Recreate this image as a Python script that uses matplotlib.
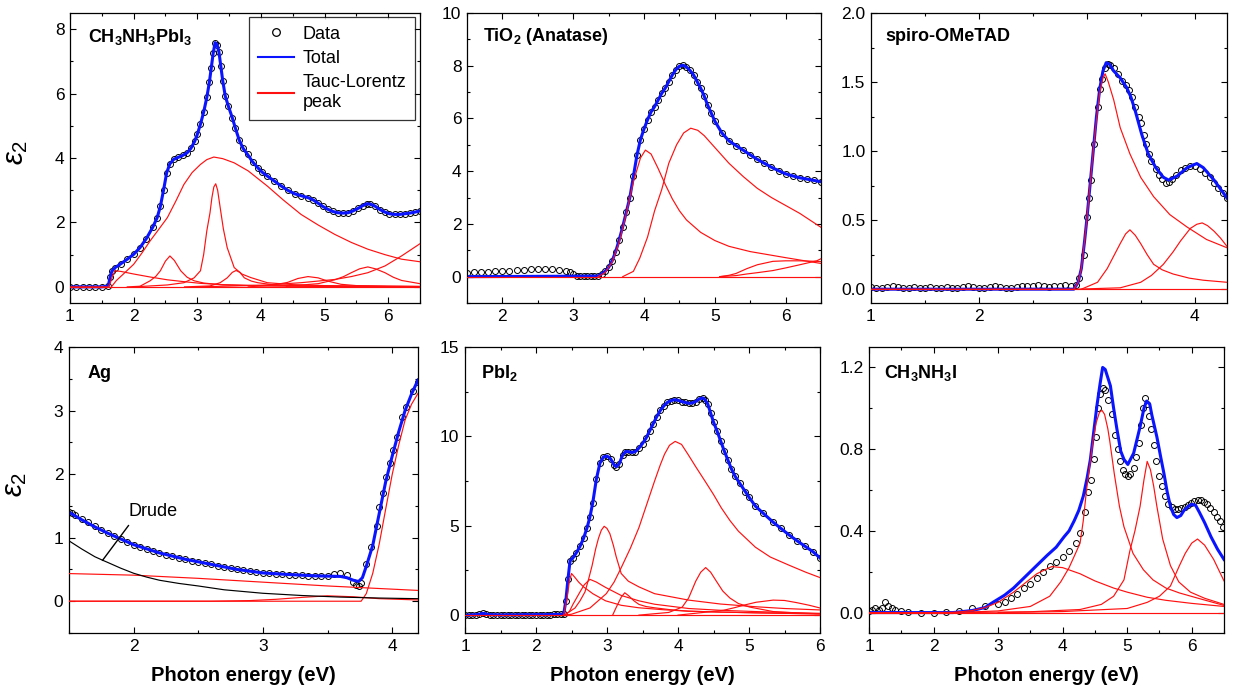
import matplotlib
matplotlib.use("Agg")
import matplotlib.pyplot as plt
from matplotlib.ticker import MultipleLocator, FormatStrFormatter
from matplotlib.lines import Line2D

plt.rcParams['font.family'] = ['Liberation Sans', 'DejaVu Sans']
plt.rcParams['mathtext.fontset'] = 'custom'
plt.rcParams['mathtext.rm'] = 'Liberation Sans'
plt.rcParams['mathtext.it'] = 'Liberation Sans:italic'
plt.rcParams['mathtext.bf'] = 'Liberation Sans:bold'

# ---------------- CH3NH3PbI3 ----------------
mapi_e = [1.0,1.1,1.2,1.3,1.4,1.5,1.6,1.63,1.66,1.71,1.8,1.9,2.0,2.1,2.2,2.3,2.37,2.42,2.47,2.52,2.57,2.63,2.7,2.77,2.84,2.9,2.96,3.0,3.05,3.1,3.15,3.19,3.22,3.25,3.28,3.31,3.34,3.37,3.4,3.44,3.49,3.55,3.6,3.66,3.72,3.79,3.87,3.95,4.02,4.1,4.2,4.32,4.42,4.53,4.63,4.74,4.82,4.89,4.97,5.05,5.13,5.21,5.29,5.37,5.45,5.53,5.6,5.66,5.72,5.79,5.87,5.95,6.02,6.1,6.18,6.26,6.34,6.42,6.5]
mapi_eps = [0,0,0,0,0,0,0.02,0.3,0.5,0.6,0.72,0.86,1.01,1.22,1.5,1.85,2.15,2.5,3.0,3.55,3.82,3.96,4.02,4.08,4.16,4.3,4.52,4.73,5.05,5.42,5.88,6.35,6.8,7.25,7.58,7.52,7.3,6.85,6.4,5.92,5.6,5.25,4.92,4.55,4.3,4.11,3.88,3.7,3.56,3.44,3.3,3.13,3.0,2.89,2.83,2.77,2.7,2.61,2.5,2.41,2.34,2.3,2.29,2.3,2.36,2.44,2.52,2.58,2.57,2.51,2.4,2.32,2.27,2.25,2.25,2.27,2.29,2.32,2.36]
mapi_peaks = [
    ([1.0,1.6,1.63,1.67,1.71,1.8,2.0,2.25,2.53,2.8,3.05,3.4,4.0,5.0,6.5],
     [0,0,0.1,0.35,0.5,0.48,0.4,0.31,0.22,0.16,0.11,0.07,0.04,0.02,0.01]),
    ([1.0,6.5], [0,0]),
    ([1.65,1.73,1.85,2.0,2.13,2.26,2.4,2.53,2.66,2.79,2.92,3.05,3.15,3.26,3.4,3.58,3.8,4.1,4.35,4.63,4.9,5.16,5.42,5.68,5.95,6.21,6.5],
     [0,0.2,0.42,0.7,1.05,1.43,1.8,2.15,2.65,3.18,3.55,3.8,3.95,4.03,3.98,3.85,3.6,3.13,2.7,2.25,1.92,1.63,1.38,1.17,1.0,0.86,0.78]),
    ([2.0,2.53,2.79,2.95,3.05,3.1,3.15,3.2,3.23,3.26,3.29,3.32,3.36,3.41,3.47,3.58,3.7,3.84,4.1,4.5,5.0,6.0,6.5],
     [0,0.06,0.13,0.28,0.5,1.0,1.74,2.3,2.77,3.1,3.2,3.0,2.46,1.8,1.22,0.6,0.4,0.29,0.13,0.07,0.04,0.02,0.015]),
    ([1.9,2.1,2.26,2.35,2.42,2.5,2.57,2.64,2.74,2.84,2.95,3.1,3.4,4.0,5.0,6.5],
     [0,0.02,0.19,0.33,0.5,0.8,0.96,0.82,0.5,0.3,0.19,0.12,0.06,0.03,0.015,0.01]),
    ([2.8,3.2,3.36,3.47,3.55,3.61,3.67,3.74,3.85,3.95,4.21,4.6,5.5,6.5],
     [0,0.03,0.13,0.28,0.45,0.51,0.45,0.28,0.18,0.13,0.06,0.03,0.01,0.005]),
    ([3.8,4.2,4.42,4.58,4.74,4.9,5.05,5.26,5.5,6.0,6.5],
     [0,0.06,0.14,0.26,0.32,0.28,0.18,0.08,0.04,0.02,0.01]),
    ([4.4,4.9,5.16,5.3,5.42,5.55,5.68,5.8,5.95,6.08,6.21,6.5],
     [0.02,0.1,0.22,0.32,0.44,0.56,0.62,0.56,0.44,0.3,0.2,0.1]),
    ([3.0,3.6,4.1,4.63,5.16,5.42,5.68,5.95,6.21,6.5],
     [0,0.03,0.06,0.13,0.23,0.32,0.44,0.65,0.96,1.34]),
]

# ---------------- TiO2 ----------------
tio2_e = [1.5,1.6,1.7,1.8,1.9,2.0,2.1,2.2,2.3,2.4,2.5,2.6,2.7,2.8,2.9,2.95,3.0,3.05,3.1,3.15,3.2,3.25,3.3,3.35,3.4,3.45,3.5,3.55,3.6,3.65,3.7,3.75,3.8,3.85,3.9,3.95,4.0,4.05,4.1,4.15,4.2,4.25,4.3,4.35,4.4,4.45,4.5,4.55,4.6,4.65,4.7,4.75,4.8,4.85,4.9,4.95,5.0,5.1,5.2,5.3,5.4,5.5,5.6,5.7,5.8,5.9,6.0,6.1,6.2,6.3,6.4,6.5]
tio2_eps = [0.15,0.17,0.18,0.19,0.2,0.21,0.23,0.25,0.27,0.28,0.29,0.29,0.28,0.26,0.22,0.18,0.1,0.04,0.02,0.02,0.02,0.02,0.02,0.03,0.1,0.2,0.35,0.6,0.95,1.4,1.9,2.45,3.0,3.8,4.6,5.2,5.6,5.95,6.25,6.45,6.7,6.95,7.15,7.4,7.65,7.85,7.98,8.02,7.95,7.82,7.65,7.4,7.15,6.85,6.5,6.2,5.9,5.45,5.15,4.97,4.8,4.62,4.45,4.3,4.15,4.02,3.9,3.82,3.75,3.7,3.65,3.6]
tio2_peaks = [
    ([1.5,6.5], [0,0]),
    ([3.35,3.45,3.55,3.65,3.75,3.85,3.95,4.02,4.1,4.2,4.3,4.4,4.5,4.6,4.8,5.0,5.2,5.5,6.0,6.5],
     [0,0.15,0.55,1.3,2.4,3.6,4.5,4.8,4.65,4.1,3.5,2.95,2.5,2.15,1.68,1.37,1.15,0.95,0.72,0.5]),
    ([3.7,3.85,3.94,4.05,4.15,4.25,4.35,4.46,4.56,4.66,4.76,4.85,5.0,5.2,5.4,5.6,5.8,6.0,6.2,6.5],
     [0,0.2,0.7,1.5,2.5,3.3,4.3,5.0,5.45,5.63,5.55,5.35,4.9,4.3,3.8,3.35,3.0,2.7,2.4,1.87]),
    ([5.07,5.2,5.3,5.45,5.6,5.82,6.0,6.2,6.44,6.5],
     [0,0.05,0.12,0.3,0.45,0.58,0.6,0.6,0.58,0.57]),
    ([5.07,5.3,5.45,5.6,5.82,6.0,6.2,6.44,6.5],
     [0,0.04,0.1,0.15,0.23,0.33,0.45,0.6,0.68]),
]

# ---------------- spiro-OMeTAD ----------------
spiro_e = [1.0,1.05,1.1,1.15,1.2,1.25,1.3,1.35,1.4,1.45,1.5,1.55,1.6,1.65,1.7,1.75,1.8,1.85,1.9,1.95,2.0,2.05,2.1,2.15,2.2,2.25,2.3,2.35,2.4,2.45,2.5,2.55,2.6,2.65,2.7,2.75,2.8,2.85,2.9,2.93,2.97,3.0,3.02,3.04,3.07,3.1,3.12,3.14,3.17,3.2,3.22,3.25,3.29,3.33,3.36,3.39,3.42,3.45,3.48,3.5,3.53,3.55,3.58,3.6,3.64,3.67,3.7,3.73,3.76,3.79,3.83,3.87,3.91,3.96,4.0,4.05,4.1,4.14,4.18,4.22,4.26,4.3]
spiro_eps = [0.015,0.01,0.012,0.015,0.02,0.015,0.01,0.012,0.015,0.01,0.012,0.015,0.01,0.012,0.015,0.01,0.012,0.015,0.02,0.015,0.01,0.012,0.015,0.02,0.015,0.01,0.012,0.015,0.02,0.02,0.025,0.03,0.02,0.015,0.02,0.025,0.03,0.025,0.03,0.08,0.25,0.52,0.66,0.79,1.05,1.32,1.45,1.52,1.6,1.63,1.62,1.6,1.56,1.51,1.48,1.44,1.39,1.32,1.25,1.2,1.12,1.05,0.98,0.93,0.87,0.83,0.8,0.77,0.775,0.8,0.83,0.86,0.88,0.89,0.89,0.87,0.84,0.81,0.77,0.73,0.7,0.66]
spiro_tot_e = [1.0,2.88,2.92,2.95,2.98,3.0,3.03,3.06,3.09,3.12,3.15,3.18,3.21,3.25,3.31,3.37,3.41,3.45,3.51,3.57,3.64,3.71,3.76,3.84,3.93,4.02,4.08,4.18,4.3]
spiro_tot = [0,0,0.05,0.15,0.35,0.5,0.75,1.0,1.25,1.45,1.58,1.64,1.63,1.58,1.53,1.46,1.39,1.29,1.12,0.98,0.88,0.81,0.79,0.82,0.88,0.91,0.88,0.79,0.66]
spiro_peaks = [
    ([1.0,4.3], [0,0]),
    ([1.0,2.88,2.92,2.95,2.98,3.0,3.03,3.06,3.09,3.12,3.15,3.17,3.2,3.25,3.31,3.4,3.5,3.62,3.77,3.93,4.11,4.3],
     [0,0,0.05,0.15,0.35,0.5,0.75,1.0,1.23,1.42,1.53,1.56,1.5,1.37,1.17,0.98,0.81,0.67,0.54,0.45,0.36,0.3]),
    ([2.95,3.1,3.19,3.25,3.31,3.36,3.4,3.45,3.5,3.56,3.62,3.7,3.8,3.95,4.08,4.3],
     [0,0.05,0.15,0.24,0.33,0.4,0.43,0.39,0.33,0.25,0.18,0.14,0.11,0.08,0.065,0.05]),
    ([2.9,3.31,3.5,3.6,3.71,3.8,3.87,3.96,4.02,4.07,4.12,4.18,4.24,4.3],
     [0,0.01,0.05,0.1,0.18,0.27,0.35,0.44,0.47,0.48,0.46,0.42,0.37,0.31]),
]

# ---------------- Ag ----------------
ag_e = [1.5,1.52,1.55,1.6,1.65,1.7,1.75,1.8,1.85,1.9,1.95,2.0,2.05,2.1,2.15,2.2,2.25,2.3,2.35,2.4,2.45,2.5,2.55,2.6,2.65,2.7,2.75,2.8,2.85,2.9,2.95,3.0,3.05,3.1,3.15,3.2,3.25,3.3,3.35,3.4,3.45,3.5,3.55,3.6,3.65,3.7,3.72,3.74,3.76,3.8,3.84,3.88,3.9,3.93,3.95,3.98,4.01,4.04,4.08,4.11,4.16,4.2]
ag_eps = [1.4,1.39,1.36,1.3,1.24,1.18,1.12,1.07,1.02,0.98,0.93,0.89,0.86,0.82,0.79,0.76,0.735,0.71,0.685,0.66,0.64,0.62,0.6,0.58,0.56,0.54,0.52,0.5,0.49,0.47,0.455,0.445,0.44,0.43,0.425,0.42,0.415,0.41,0.4,0.395,0.39,0.4,0.43,0.44,0.41,0.3,0.25,0.24,0.28,0.58,0.86,1.18,1.49,1.7,1.96,2.17,2.38,2.59,2.9,3.06,3.3,3.45]
ag_tot_e = [1.5,1.6,1.7,1.8,1.9,2.0,2.2,2.4,2.6,2.8,3.0,3.2,3.4,3.5,3.6,3.65,3.7,3.74,3.77,3.8,3.85,3.9,3.95,4.0,4.05,4.1,4.15,4.2]
ag_tot = [1.4,1.28,1.17,1.07,0.98,0.89,0.76,0.66,0.58,0.5,0.445,0.42,0.4,0.395,0.39,0.37,0.33,0.31,0.37,0.55,0.88,1.38,1.88,2.28,2.66,3.0,3.26,3.48]
ag_drude_e = [1.5,1.6,1.7,1.76,1.8,1.9,2.0,2.1,2.2,2.35,2.5,2.7,3.0,3.3,3.6,3.9,4.2]
ag_drude = [0.95,0.82,0.7,0.645,0.61,0.52,0.44,0.38,0.33,0.28,0.24,0.18,0.125,0.09,0.065,0.05,0.04]
ag_peaks = [
    ([1.5,2.0,2.5,3.0,3.5,4.0,4.2], [0.435,0.41,0.36,0.3,0.24,0.19,0.17]),
    ([1.5,2.6,2.9,3.1,3.3,3.5,3.7,3.9,4.2], [0,0,0.01,0.03,0.06,0.085,0.07,0.04,0.02]),
    ([1.5,3.76,3.8,3.85,3.9,3.95,4.0,4.05,4.1,4.15,4.2], [0,0,0.12,0.44,0.9,1.45,1.99,2.45,2.85,3.1,3.27]),
]

# ---------------- PbI2 ----------------
pbi2_e = [1.0,1.05,1.1,1.15,1.2,1.25,1.3,1.35,1.4,1.45,1.5,1.55,1.6,1.65,1.7,1.75,1.8,1.85,1.9,1.95,2.0,2.05,2.1,2.15,2.2,2.25,2.3,2.35,2.39,2.42,2.45,2.48,2.52,2.57,2.62,2.67,2.72,2.76,2.8,2.85,2.9,2.95,3.0,3.05,3.1,3.13,3.17,3.22,3.26,3.3,3.35,3.4,3.45,3.5,3.55,3.6,3.65,3.7,3.75,3.8,3.85,3.9,3.95,4.0,4.05,4.1,4.15,4.2,4.25,4.3,4.35,4.38,4.42,4.46,4.5,4.55,4.6,4.65,4.7,4.75,4.8,4.87,4.95,5.0,5.09,5.2,5.34,5.45,5.56,5.68,5.79,5.9,6.0]
pbi2_eps = [0,0,0.02,0.02,0.05,0.1,0.06,0.03,0.02,0.02,0.01,0.01,0.02,0.02,0.01,0.02,0.02,0.03,0.02,0.02,0.03,0.03,0.02,0.03,0.03,0.04,0.04,0.04,0.05,0.8,2.0,3.05,3.2,3.5,3.85,4.3,4.9,5.5,6.3,7.6,8.5,8.85,8.9,8.75,8.4,8.3,8.45,8.95,9.15,9.15,9.1,9.15,9.35,9.6,9.9,10.3,10.7,11.1,11.45,11.7,11.9,12.0,12.05,12.02,11.95,11.9,11.85,11.87,11.95,12.1,12.15,12.05,11.8,11.3,10.8,10.3,9.75,9.2,8.7,8.2,7.8,7.37,6.9,6.6,6.1,5.7,5.2,4.85,4.5,4.15,3.85,3.55,3.2]
pbi2_peaks = [
    ([1.0,6.0], [0,0]),
    ([2.39,2.44,2.47,2.5,2.55,2.6,2.67,2.8,2.98,3.2,3.45,3.8,4.15,4.6,5.09,5.5,6.0],
     [0,1.0,1.9,2.33,2.1,1.85,1.58,1.2,0.8,0.55,0.41,0.3,0.22,0.17,0.13,0.1,0.07]),
    ([2.4,2.47,2.52,2.57,2.62,2.68,2.76,2.85,2.98,3.2,3.45,3.67,4.15,4.6,5.09,5.5,6.0],
     [0,0.2,0.6,0.95,1.3,1.7,2.0,1.85,1.55,1.1,0.8,0.61,0.37,0.27,0.2,0.15,0.1]),
    ([2.4,2.55,2.62,2.69,2.74,2.79,2.84,2.88,2.92,2.96,3.0,3.04,3.09,3.13,3.2,3.3,3.45,3.67,4.15,4.6,5.09,5.5,6.0],
     [0,0.4,0.8,1.3,2.0,2.77,3.7,4.3,4.75,4.97,4.85,4.56,3.9,3.26,2.33,1.9,1.58,1.2,0.84,0.62,0.47,0.37,0.29]),
    ([2.4,2.5,2.76,2.99,3.1,3.2,3.33,3.45,3.56,3.67,3.75,3.81,3.88,3.96,4.05,4.14,4.25,4.38,4.5,4.61,4.73,4.85,5.09,5.3,5.56,5.8,6.0],
     [0,0.05,0.4,1.2,1.85,2.65,3.75,4.9,6.2,7.5,8.4,9.0,9.5,9.72,9.55,9.0,8.3,7.5,6.75,6.0,5.3,4.7,3.8,3.25,2.8,2.4,2.1]),
    ([3.08,3.12,3.15,3.2,3.25,3.3,3.38,3.45,3.55,3.67,3.9,4.15,4.6,5.09,5.5,6.0],
     [0,0.35,0.6,1.0,1.25,1.1,0.8,0.6,0.48,0.41,0.3,0.22,0.17,0.13,0.1,0.07]),
    ([3.45,3.87,4.06,4.15,4.25,4.32,4.39,4.46,4.54,4.63,4.73,4.85,5.01,5.34,5.7,6.0],
     [0,0.15,0.45,0.96,1.9,2.4,2.66,2.4,1.9,1.35,0.96,0.65,0.45,0.2,0.12,0.07]),
    ([4.0,4.64,4.8,4.92,5.1,5.34,5.5,5.67,5.85,6.0],
     [0,0.27,0.42,0.55,0.72,0.84,0.82,0.7,0.55,0.4]),
]

# ---------------- CH3NH3I ----------------
mai_e = [1.0,1.05,1.1,1.15,1.2,1.25,1.3,1.35,1.4,1.5,1.6,1.8,2.0,2.2,2.4,2.6,2.8,3.0,3.1,3.2,3.3,3.4,3.5,3.6,3.7,3.8,3.9,4.0,4.1,4.2,4.27,4.35,4.4,4.44,4.48,4.51,4.55,4.58,4.62,4.66,4.71,4.76,4.81,4.85,4.89,4.93,4.97,5.01,5.05,5.1,5.14,5.18,5.21,5.24,5.28,5.31,5.34,5.37,5.41,5.45,5.5,5.54,5.59,5.64,5.69,5.74,5.79,5.84,5.89,5.94,5.99,6.04,6.09,6.14,6.19,6.24,6.29,6.34,6.39,6.44,6.49]
mai_eps = [0.01,0.015,0.02,0.015,0.02,0.05,0.03,0.02,0.015,0.01,0.005,0.0,0.0,0.005,0.01,0.02,0.03,0.04,0.05,0.07,0.09,0.12,0.14,0.17,0.2,0.23,0.25,0.27,0.3,0.34,0.39,0.49,0.59,0.65,0.75,0.86,1.0,1.07,1.1,1.09,1.04,0.97,0.87,0.8,0.74,0.7,0.68,0.67,0.68,0.71,0.76,0.83,0.92,1.0,1.05,1.02,0.96,0.9,0.82,0.74,0.67,0.62,0.57,0.53,0.515,0.505,0.505,0.51,0.515,0.525,0.535,0.545,0.55,0.55,0.54,0.53,0.51,0.49,0.47,0.45,0.42]
mai_tot_e = [1.0,2.3,2.6,2.8,2.92,3.1,3.24,3.37,3.5,3.63,3.76,3.9,4.02,4.1,4.18,4.25,4.32,4.38,4.43,4.48,4.53,4.58,4.62,4.66,4.7,4.74,4.79,4.84,4.9,4.95,5.01,5.1,5.2,5.26,5.3,5.35,5.38,5.46,5.52,5.57,5.62,5.67,5.72,5.77,5.83,5.88,5.95,6.0,6.06,6.12,6.2,6.3,6.4,6.5]
mai_tot = [0,0,0.01,0.025,0.05,0.085,0.12,0.16,0.2,0.24,0.28,0.32,0.37,0.4,0.45,0.5,0.57,0.66,0.75,0.88,1.01,1.12,1.2,1.19,1.15,1.11,1.0,0.9,0.79,0.75,0.725,0.78,0.91,1.0,1.035,1.02,0.97,0.86,0.76,0.68,0.59,0.52,0.48,0.465,0.475,0.5,0.52,0.53,0.525,0.49,0.44,0.37,0.31,0.26]
mai_peaks = [
    ([1.0,6.5], [0,0]),
    ([1.0,2.3,2.6,2.8,3.0,3.24,3.4,3.6,3.83,4.0,4.27,4.5,4.79,5.0,5.31,5.6,6.0,6.5],
     [0,0,0.01,0.025,0.05,0.1,0.14,0.19,0.225,0.22,0.19,0.155,0.12,0.1,0.075,0.06,0.045,0.03]),
    ([2.0,2.5,3.0,3.5,3.8,3.97,4.1,4.2,4.27,4.32,4.37,4.42,4.47,4.52,4.57,4.61,4.65,4.7,4.73,4.8,4.88,4.95,5.09,5.25,5.4,5.6,5.81,6.1,6.5],
     [0,0.002,0.008,0.03,0.08,0.15,0.22,0.29,0.34,0.45,0.6,0.72,0.84,0.93,0.98,0.99,0.97,0.9,0.84,0.68,0.52,0.42,0.29,0.21,0.16,0.12,0.096,0.07,0.035]),
    ([2.5,3.5,4.27,4.6,4.79,4.95,5.04,5.12,5.2,5.26,5.31,5.36,5.41,5.46,5.55,5.67,5.8,5.98,6.2,6.5],
     [0,0.004,0.015,0.04,0.08,0.16,0.3,0.4,0.52,0.65,0.74,0.7,0.62,0.52,0.36,0.23,0.15,0.1,0.07,0.04]),
    ([3.0,4.0,5.0,5.31,5.5,5.67,5.81,5.9,6.0,6.09,6.2,6.34,6.5],
     [0,0.005,0.02,0.05,0.08,0.13,0.23,0.29,0.34,0.36,0.33,0.26,0.155]),
]

W, H = 1233, 692
fig = plt.figure(figsize=(W / 100, H / 100), dpi=100)

def make_ax(l, t, r, b):
    return fig.add_axes([l / W, 1 - b / H, (r - l) / W, (b - t) / H])

def style(ax, xlim, ylim, xmaj, ymaj, yfmt=None):
    ax.set_xlim(*xlim)
    ax.set_ylim(*ylim)
    ax.xaxis.set_major_locator(MultipleLocator(xmaj))
    ax.xaxis.set_minor_locator(MultipleLocator(xmaj / 2))
    ax.yaxis.set_major_locator(MultipleLocator(ymaj))
    ax.yaxis.set_minor_locator(MultipleLocator(ymaj / 2))
    if yfmt:
        ax.yaxis.set_major_formatter(FormatStrFormatter(yfmt))
    ax.tick_params(which='both', direction='in', top=True, right=True,
                   width=0.8, labelsize=12.5, pad=4)
    ax.tick_params(which='major', length=4)
    ax.tick_params(which='minor', length=2.5)
    for s in ax.spines.values():
        s.set_linewidth(0.9)

def draw(ax, de, dy, te, ty, peaks):
    ax.plot(de, dy, 'o', mfc='none', mec='black', ms=4.3, mew=0.7, zorder=1)
    ax.plot(te, ty, '-', color='#0a14ff', lw=2.2, zorder=2)
    for pe, py in peaks:
        ax.plot(pe, py, '-', color='#ff1010', lw=0.85, zorder=3)

def title(ax, s, x, y):
    ax.text(x, y, s, transform=ax.transAxes, fontsize=13, fontweight='bold',
            ha='left', va='baseline')

ax1 = make_ax(70, 13, 420, 303)
ax2 = make_ax(467, 13, 821, 303)
ax3 = make_ax(871, 13, 1227, 303)
ax4 = make_ax(69, 347, 418, 633)
ax5 = make_ax(465, 347, 820, 633)
ax6 = make_ax(869, 347, 1224, 633)

draw(ax1, mapi_e, mapi_eps, mapi_e, mapi_eps, mapi_peaks)
style(ax1, (1, 6.5), (-0.5, 8.5), 1, 2)
title(ax1, r'$\mathbf{CH_3NH_3PbI_3}$', 0.05, 0.9)

tio2_tot_e = [1.5, 3.35] + [e for e in tio2_e if e >= 3.4]
tio2_tot = [0, 0.02] + [v for e, v in zip(tio2_e, tio2_eps) if e >= 3.4]
draw(ax2, tio2_e, tio2_eps, tio2_tot_e, tio2_tot, tio2_peaks)
style(ax2, (1.5, 6.5), (-1, 10), 1, 2)
title(ax2, r'$\mathbf{TiO_2}$ (Anatase)', 0.045, 0.905)

draw(ax3, spiro_e, spiro_eps, spiro_tot_e, spiro_tot, spiro_peaks)
style(ax3, (1, 4.3), (-0.1, 2.0), 1, 0.5, '%.1f')
title(ax3, 'spiro-OMeTAD', 0.04, 0.905)

draw(ax4, ag_e, ag_eps, ag_tot_e, ag_tot, ag_peaks)
ax4.plot(ag_drude_e, ag_drude, '-', color='black', lw=0.85, zorder=3)
style(ax4, (1.5, 4.2), (-0.5, 4), 1, 1)
title(ax4, 'Ag', 0.052, 0.89)
ax4.text(1.96, 1.41, 'Drude', fontsize=13, ha='left', va='center')
ax4.plot([1.96, 1.76], [1.19, 0.645], '-', color='black', lw=1.0, zorder=4)

draw(ax5, pbi2_e, pbi2_eps, pbi2_e, pbi2_eps, pbi2_peaks)
style(ax5, (1, 6), (-1, 15), 1, 5)
title(ax5, r'$\mathbf{PbI_2}$', 0.045, 0.893)

draw(ax6, mai_e, mai_eps, mai_tot_e, mai_tot, mai_peaks)
style(ax6, (1, 6.5), (-0.1, 1.3), 1, 0.4, '%.1f')
title(ax6, r'$\mathbf{CH_3NH_3I}$', 0.043, 0.89)

for ax in (ax1, ax4):
    ax.set_ylabel(r'$\varepsilon_2$', fontsize=21)
    ax.yaxis.set_label_coords(-0.115, 0.52)
for ax in (ax4, ax5, ax6):
    ax.set_xlabel('Photon energy (eV)', fontsize=14.5, fontweight='bold')
    ax.xaxis.set_label_coords(0.5, -0.115)

handles = [
    Line2D([], [], marker='o', ls='none', mfc='none', mec='black', ms=5.5, mew=0.9),
    Line2D([], [], color='#0a14ff', lw=1.5),
    Line2D([], [], color='#ff1010', lw=1.5),
]
leg = ax1.legend(handles, ['Data', 'Total', 'Tauc-Lorentz\npeak'], loc='upper right',
                 bbox_to_anchor=(0.987, 0.987), borderaxespad=0, fontsize=13,
                 frameon=True, fancybox=False, handlelength=2.0, handletextpad=0.5,
                 labelspacing=0.4, borderpad=0.5)
leg.get_frame().set_edgecolor('black')
leg.get_frame().set_linewidth(0.9)

fig.savefig('out.png', dpi=100)
